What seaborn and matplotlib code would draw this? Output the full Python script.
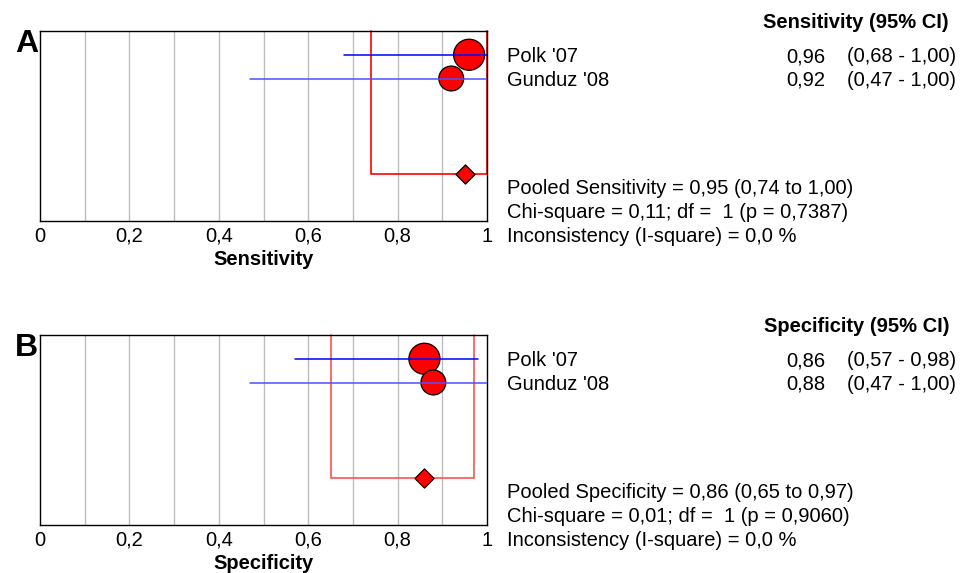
import matplotlib
matplotlib.use("Agg")
import matplotlib.pyplot as plt
import seaborn as sns
import pandas as pd

# ---- data ----
studies = ["Polk '07", "Gunduz '08"]
sens = [0.96, 0.92]
sens_lo = [0.68, 0.47]
sens_hi = [1.00, 1.00]
spec = [0.86, 0.88]
spec_lo = [0.57, 0.47]
spec_hi = [0.98, 1.00]
pooled_sens = [0.95, 0.74, 1.00]
pooled_spec = [0.86, 0.65, 0.97]
chi_sens = ["0,11", "1", "0,7387"]
chi_spec = ["0,01", "1", "0,9060"]
isq = ["0,0", "0,0"]
xticks = [0, 0.2, 0.4, 0.6, 0.8, 1]
xtick_labels = ["0", "0,2", "0,4", "0,6", "0,8", "1"]

sns.set_theme(style="white")
plt.rcParams['font.family'] = ['Liberation Sans', 'DejaVu Sans']
plt.rcParams['text.color'] = 'black'
plt.rcParams['axes.labelcolor'] = 'black'
plt.rcParams['xtick.color'] = 'black'

W, H = 971, 573
fig = plt.figure(figsize=(W / 100, H / 100), dpi=100)


def fx(x):
    return x / W


def fy(y):
    return 1 - y / H


FS = 14.5
marker_area = {"Polk '07": 500, "Gunduz '08": 320}
line_colors = ["#0000ff", "#5050ff"]


def c(v):
    return f"{v:.2f}".replace(".", ",")


def panel(top_px, letter, vals, lo, hi, pooled, name, chi, isq_v, bracket_color):
    ax = fig.add_axes([fx(40), fy(top_px + 190), fx(487) - fx(40), 190 / H])
    rows = [1, 2]
    df = pd.DataFrame({"study": studies, "val": vals, "row": rows})
    for v in [0.1 * i for i in range(1, 10)]:
        ax.axvline(v, color="#bdbdbd", lw=1, zorder=0)
    sns.scatterplot(data=df, x="val", y="row", size="study", sizes=marker_area,
                    color="red", edgecolor="black", linewidth=0.9, legend=False,
                    ax=ax, zorder=2)
    for i in range(len(studies)):
        ax.plot([lo[i], hi[i]], [rows[i], rows[i]], color=line_colors[i], lw=1.1, zorder=3)
    # pooled bracket
    prow = 6
    ax.plot([pooled[1], pooled[1], pooled[2], pooled[2]], [0, prow, prow, 0],
            color=bracket_color, lw=1.2, zorder=1, clip_on=False)
    sns.scatterplot(x=[pooled[0]], y=[prow], marker="D", s=95, color="red",
                    edgecolor="black", linewidth=0.9, ax=ax, zorder=4, legend=False)
    ax.set_xlim(0, 1)
    ax.set_ylim(8, 0)
    ax.set_yticks([])
    ax.set_xticks(xticks)
    ax.set_xticklabels(xtick_labels, fontsize=FS)
    ax.tick_params(axis="x", length=0, pad=4, colors="black")
    ax.set_xlabel(name, fontsize=FS, fontweight="bold", labelpad=3, color="black")
    ax.set_ylabel("")
    for s in ax.spines.values():
        s.set_color("black")
        s.set_linewidth(1)
    # texts
    fig.text(fx(26.5), fy(top_px + 13), letter, fontsize=23, fontweight="bold",
             ha="center", va="center")
    fig.text(fx(949), fy(top_px - 11), f"{name} (95% CI)", fontsize=FS,
             fontweight="bold", ha="right", va="center_baseline")
    row_y = [top_px + 24, top_px + 47.5]
    for i, st in enumerate(studies):
        fig.text(fx(507), fy(row_y[i]), st, fontsize=FS, ha="left", va="center_baseline")
        fig.text(fx(825), fy(row_y[i]), c(vals[i]), fontsize=FS, ha="right",
                 va="center_baseline")
        fig.text(fx(847), fy(row_y[i]), f"({c(lo[i])} - {c(hi[i])})", fontsize=FS,
                 ha="left", va="center_baseline")
    lines = [
        f"Pooled {name} = {c(pooled[0])} ({c(pooled[1])} to {c(pooled[2])})",
        f"Chi-square = {chi[0]}; df =  {chi[1]} (p = {chi[2]})",
        f"Inconsistency (I-square) = {isq_v} %",
    ]
    for k, t in enumerate(lines):
        fig.text(fx(507), fy(top_px + 155 + 24 * k), t, fontsize=FS, ha="left",
                 va="center_baseline")


panel(31, "A", sens, sens_lo, sens_hi, pooled_sens, "Sensitivity", chi_sens, isq[0], "#ff0000")
panel(335, "B", spec, spec_lo, spec_hi, pooled_spec, "Specificity", chi_spec, isq[1], "#ff5050")

fig.savefig("out.png", dpi=100, facecolor="white")
